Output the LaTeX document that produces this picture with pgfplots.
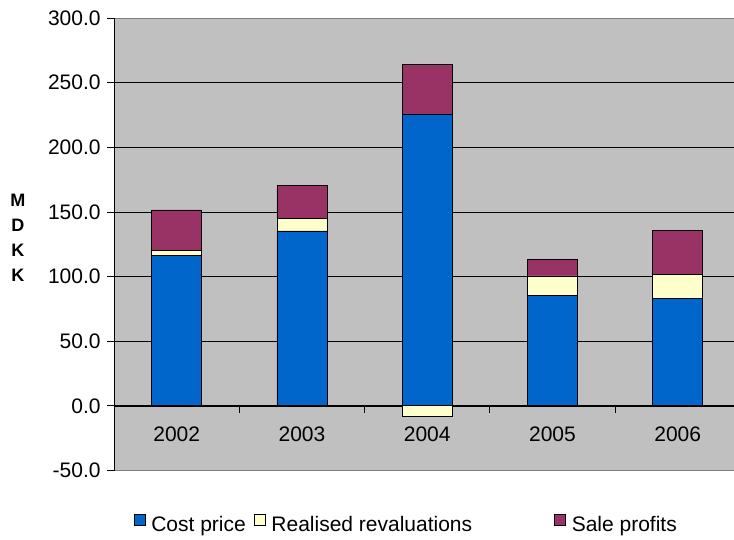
\documentclass[border=0pt]{standalone}
\usepackage{fontspec}
\setmainfont{Liberation Sans}
\usepackage{pgfplots}
\pgfplotsset{compat=1.18}

\definecolor{costblue}{HTML}{0066CC}
\definecolor{revalyellow}{HTML}{FFFFCC}
\definecolor{profitpurple}{HTML}{993366}
\definecolor{plotgray}{HTML}{C0C0C0}
\definecolor{framegray}{HTML}{808080}

\pgfplotsset{
  chartframe/.style={
    scale only axis, width=626.2bp, height=452.5bp,
    xmin=-0.5, xmax=4.5, ymin=-50, ymax=300,
    at={(114.1bp,69.5bp)}, anchor=south west,
  },
  sqlegend/.style={
    legend image code/.code={\draw[##1, draw=black, line width=0.6bp] (0bp,0bp) rectangle (11bp,11bp);}
  },
  barstyle/.style={draw=black, line width=0.8bp},
}

\begin{document}
\begin{tikzpicture}
\clip (0,0) rectangle (734bp,540bp);
\begin{axis}[chartframe,
  ybar stacked, bar width=50bp,
  axis x line*=middle, axis y line*=left,
  axis line style={black, line width=0.8bp},
  axis background/.style={fill=plotgray, draw=framegray, line width=0.8bp},
  hide obscured x ticks=false, hide obscured y ticks=false,
  ytick={0,50,...,250}, extra y ticks={-50,300}, extra y tick style={grid=none},
  ymajorgrids, major grid style={black, line width=0.7bp},
  ytick align=outside, xtick align=outside,
  major tick length=7bp,
  tick style={black, line width=0.8bp},
  xtick={0.5,1.5,2.5,3.5}, xticklabels={},
  extra x ticks={0,1,2,3,4}, extra x tick labels={2002,2003,2004,2005,2006},
  extra x tick style={major tick length=0pt, xticklabel style={yshift=-17bp}},
  /pgf/number format/assume math mode=true,
  tick label style={font=\fontsize{21bp}{24bp}\selectfont},
  yticklabel style={/tikz/xshift=-3bp, /pgf/number format/.cd, fixed, fixed zerofill, precision=1},
  ylabel={M\\D\\K\\K},
  ylabel style={rotate=-90, align=center, font=\bfseries\fontsize{18bp}{24.8bp}\selectfont,
    at={(axis description cs:-0.1535,0.514)}, anchor=center},
  legend columns=3,
  legend style={draw=none, fill=none, inner sep=0pt,
    at={(axis description cs:0.031,-0.119)}, anchor=west,
    font=\fontsize{21bp}{24bp}\selectfont,
    /tikz/column 1/.style={column sep=4bp},
    /tikz/column 2/.style={column sep=6bp},
    /tikz/column 3/.style={column sep=4bp},
    /tikz/column 4/.style={column sep=80bp},
    /tikz/column 5/.style={column sep=4bp}},
]
\addplot[fill=costblue, barstyle, sqlegend] coordinates {(0,116.5) (1,135.3) (2,225.3) (3,85.6) (4,83.0)};
\addplot[fill=revalyellow, barstyle, sqlegend] coordinates {(0,3.9) (1,9.8) (2,0) (3,14.9) (4,18.5)};
\addplot[fill=profitpurple, barstyle, sqlegend] coordinates {(0,31.1) (1,25.3) (2,39.1) (3,12.4) (4,34.1)};
\legend{Cost price, Realised revaluations, Sale profits}
\end{axis}
% the 2004 revaluation was negative and hangs below the zero line
\begin{axis}[chartframe, hide axis, ybar, bar width=50bp, bar shift=0pt]
\addplot[fill=revalyellow, barstyle] coordinates {(2,-8.2)};
\end{axis}
\end{tikzpicture}
\end{document}
